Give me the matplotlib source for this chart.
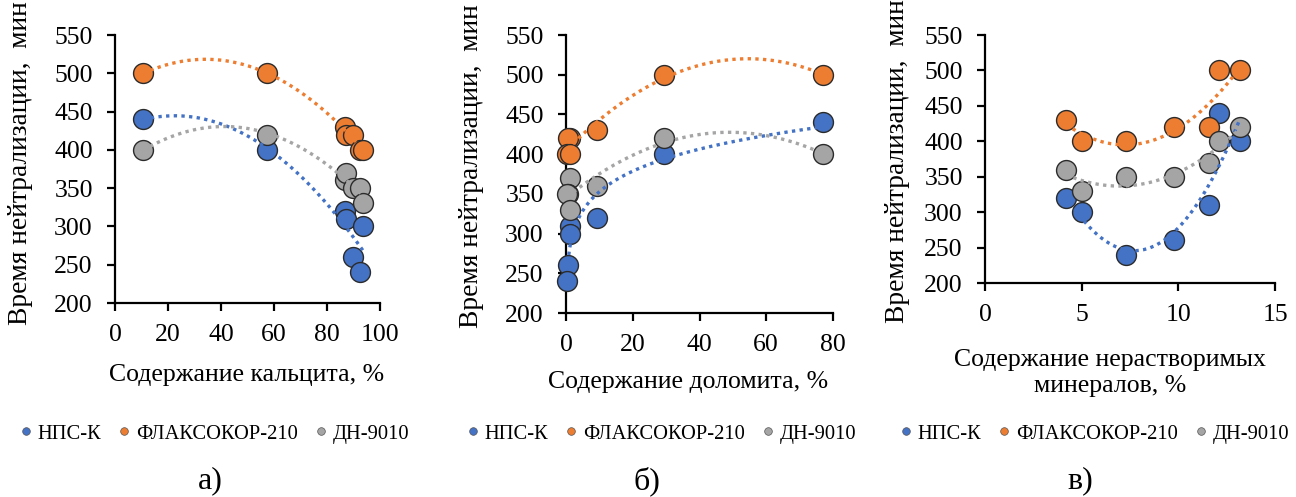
import numpy as np
import matplotlib
matplotlib.use("Agg")
import matplotlib.pyplot as plt
from matplotlib.lines import Line2D

plt.rcParams['font.family'] = ['Liberation Serif', 'DejaVu Serif']

# данные по 7 образцам пород
calcite = [10.7, 57.2, 86.8, 87.0, 89.9, 92.5, 93.7]
dolomite = [77.0, 29.4, 9.2, 1.2, 0.6, 0.4, 1.3]
insoluble = [12.1, 13.2, 4.2, 11.6, 9.8, 7.3, 5.0]

nps_k = [440, 400, 320, 310, 260, 240, 300]
flaks = [500, 500, 430, 420, 420, 400, 400]
dn9010 = [400, 420, 360, 370, 350, 350, 330]

series_names = ['НПС-К', 'ФЛАКСОКОР-210', 'ДН-9010']
colors = ['#4472C4', '#ED7D31', '#A5A5A5']

y_ticks = [200, 250, 300, 350, 400, 450, 500, 550]

W, H = 1296, 497
fig = plt.figure(figsize=(W / 100, H / 100), dpi=100)


def px_axes(x0, x1, y0, y1):
    return fig.add_axes([x0 / W, 1 - y1 / H, (x1 - x0) / W, (y1 - y0) / H])


def trend(xs, ys, kind):
    xx = np.linspace(xs.min(), xs.max(), 200)
    if kind == 'power':
        k = np.polyfit(np.log(xs), np.log(ys), 1)
        return xx, np.exp(np.polyval(k, np.log(xx)))
    k = np.polyfit(xs, ys, 2)
    return xx, np.polyval(k, xx)


panels = [
    dict(box=(115, 380, 35, 303), x=calcite, xlim=(0, 100), xt=[0, 20, 40, 60, 80, 100],
         xlabel='Содержание кальцита, %', xl_pos=(247, 375), yl_x=21, yl_b=325,
         leg_x=215, cap='а)', cap_x=210, kinds=['poly', 'poly', 'poly']),
    dict(box=(566, 833, 35, 313), x=dolomite, xlim=(0, 80), xt=[0, 20, 40, 60, 80],
         xlabel='Содержание доломита, %', xl_pos=(688, 382), yl_x=471, yl_b=328,
         leg_x=662, cap='б)', cap_x=647, kinds=['power', 'poly', 'poly']),
    dict(box=(985, 1275, 35, 283), x=insoluble, xlim=(0, 15), xt=[0, 5, 10, 15],
         xlabel='Содержание нерастворимых\nминералов, %', xl_pos=(1110, 373), yl_x=898, yl_b=323,
         leg_x=1095, cap='в)', cap_x=1080, kinds=['poly', 'poly', 'poly']),
]

for p in panels:
    ax = px_axes(*p['box'])
    xs = np.array(p['x'])
    for vals, c, kind in zip([nps_k, flaks, dn9010], colors, p['kinds']):
        ys = np.array(vals)
        ax.scatter(xs, ys, s=205, color=c, edgecolor='#2b2b2b', linewidth=1.0, zorder=3, clip_on=False)
        xx, yy = trend(xs, ys, kind)
        ax.plot(xx, yy, color=c, lw=2.4, linestyle=(0, (1, 1.3)), zorder=4, clip_on=False)
    ax.set_xlim(*p['xlim'])
    ax.set_ylim(200, 550)
    ax.set_xticks(p['xt'])
    ax.set_yticks(y_ticks)
    for s in ['top', 'right']:
        ax.spines[s].set_visible(False)
    for s in ['left', 'bottom']:
        ax.spines[s].set_linewidth(1.6)
        ax.spines[s].set_color('black')
    ax.tick_params(axis='both', labelsize=18.5, width=1.6, length=6, direction='out')
    ax.tick_params(axis='x', pad=9)
    ax.tick_params(axis='y', pad=10)

    fig.text(p['xl_pos'][0] / W, 1 - p['xl_pos'][1] / H, p['xlabel'], ha='center', va='center',
             fontsize=18.5, linespacing=1.25)
    fig.text(p['yl_x'] / W, 1 - p['yl_b'] / H, 'Время нейтрализации,  мин', rotation=90,
             ha='center', va='bottom', fontsize=19.8)

    handles = [Line2D([], [], marker='o', linestyle='none', markersize=5.5, color=c,
                      markeredgecolor='#555555', markeredgewidth=0.5) for c in colors]
    fig.legend(handles, series_names, loc='center', bbox_to_anchor=(p['leg_x'] / W, 1 - 434 / H),
               ncol=3, frameon=False, fontsize=14.8, handletextpad=0.3, columnspacing=0.9,
               handlelength=0.5, borderaxespad=0)
    fig.text(p['cap_x'] / W, 1 - 481 / H, p['cap'], ha='center', va='center', fontsize=23)

fig.savefig('out.png', dpi=100, facecolor='white')
